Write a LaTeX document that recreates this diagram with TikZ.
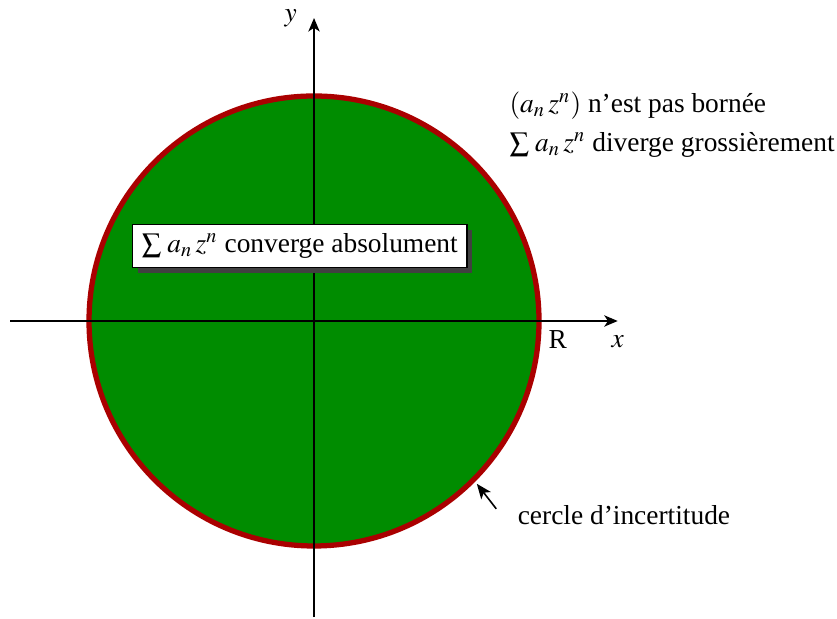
\documentclass[tikz,border=0pt]{standalone}
\usepackage{mathptmx}
\usepackage{fontspec}
\setmainfont{Liberation Serif}
\usetikzlibrary{
    positioning,
    arrows.meta,
    shadows
}
\definecolor{VertDisque}{HTML}{008C00}
\definecolor{RougeBord}{HTML}{AA0000}

\tikzset{
    axe/.style={thick, -{Stealth[length=1.8mm, width=1.5mm, inset=0.5mm]}},
    boite/.style={
        draw=black,
        fill=white,
        semithick,
        inner sep=3.5pt,
        drop shadow={shadow xshift=0.7mm, shadow yshift=-0.7mm, fill=black!75, opacity=1}
    }
}

\begin{document}
\begin{tikzpicture}[font=\fontsize{10.4}{12.5}\selectfont]
    \useasboundingbox (-4.187,-3.973) rectangle (6.973,4.28);

    % disque de convergence
    \draw[fill=VertDisque, draw=RougeBord, line width=2pt] (0,0) circle (3cm);

    % axes
    \coordinate (xmin) at (-4.05,0);
    \coordinate (xmax) at (4.05,0);
    \coordinate (ymin) at (0,-3.95);
    \coordinate (ymax) at (0,4.04);
    \draw[axe] (xmin) -- (xmax);
    \draw[axe] (ymin) -- (ymax);
    \node[below=2pt] (xlab) at (xmax) {$x$};
    \node[left=3pt] (ylab) at (ymax) {$y$};
    \node (R) at (3.25,-0.25) {R};

    \node[boite] (conv) at (-0.19,1.0) {$\sum\, a_n\, z^n$ converge absolument};

    \node[anchor=west, inner sep=0pt] (borne) at (2.6,2.87) {$(a_n\, z^n)$ n'est pas bornée};
    \node[anchor=west, inner sep=0pt] (diverge) at (2.6,2.35) {$\sum\, a_n\, z^n$ diverge grossièrement};

    % cercle d'incertitude
    \node[anchor=west, inner sep=0pt] (incert) at (2.71,-2.59) {cercle d'incertitude};
    \coordinate (bord) at (-45:3.07);
    \draw[semithick, -{Stealth[length=2mm, width=1.6mm, inset=0.5mm]}] ([xshift=-2.8mm, yshift=-0.5mm]incert.north west) -- (bord);
\end{tikzpicture}
\end{document}
